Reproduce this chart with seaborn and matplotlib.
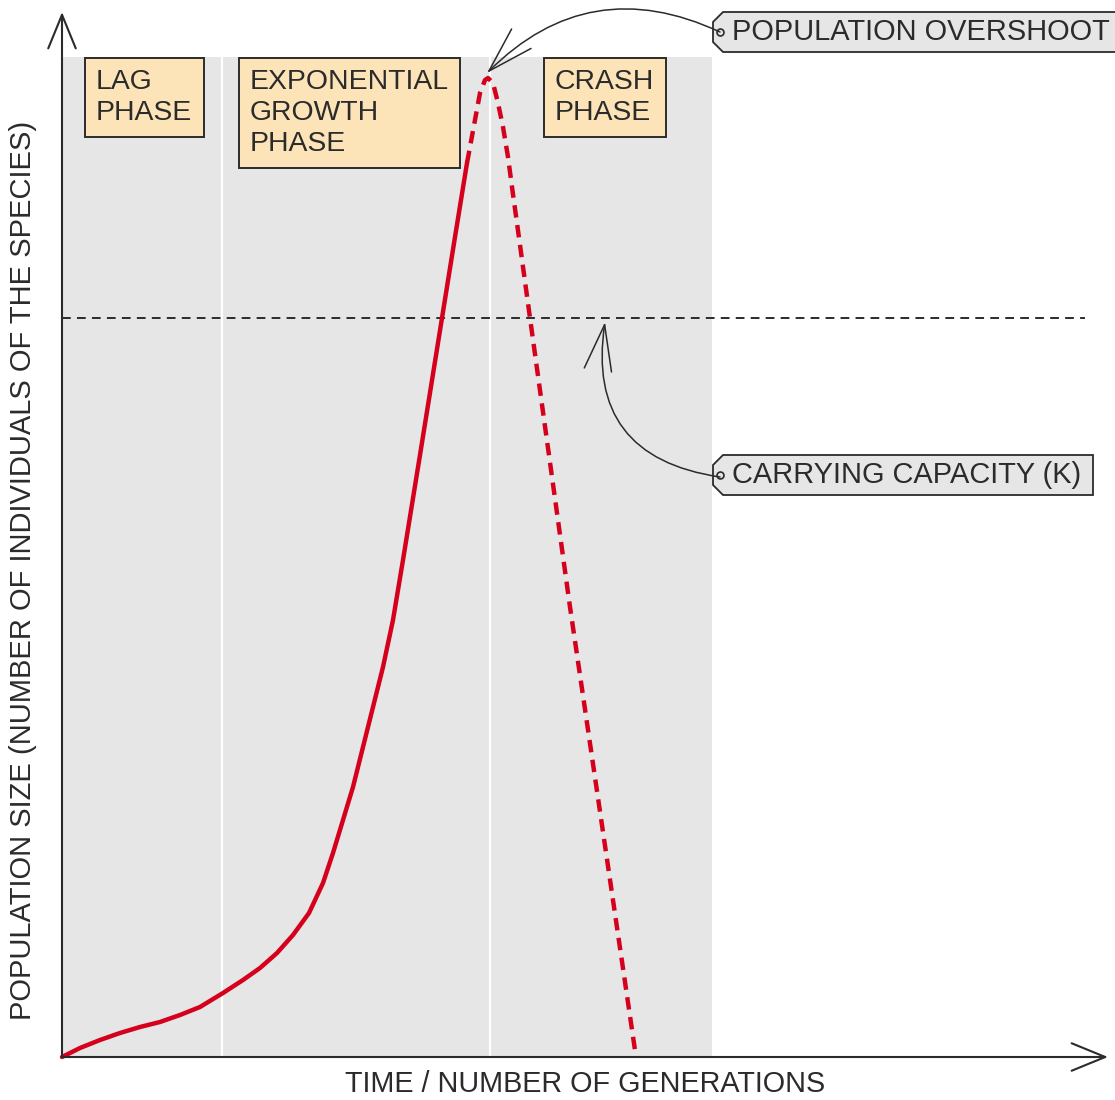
import numpy as np
import pandas as pd
import matplotlib
matplotlib.use("Agg")
import matplotlib.pyplot as plt
import seaborn as sns
from matplotlib.patches import Polygon, FancyArrowPatch

# population curve (time units, population units)
growth_time = [0, 1.8, 3.8, 5.8, 7.8, 9.8, 11.8, 13.8, 16.1, 18.1, 19.8, 21.5, 23.1,
               24.7, 26.1, 27.1, 28.1, 29.1, 30.1, 31.1, 32.1, 33.1, 34.1, 35.8,
               38.0, 39.3, 40.5]
growth_size = [0, 0.9, 1.7, 2.4, 3.0, 3.5, 4.2, 5.0, 6.4, 7.7, 8.9, 10.4, 12.2,
               14.4, 17.4, 20.4, 23.7, 27.0, 31.0, 35.0, 39.0, 43.7, 49.7, 60.2,
               73.9, 82.0, 89.4]
crash_time = [40.5, 40.8, 41.3, 41.8, 42.3, 42.6, 43.1, 43.6, 44.1, 44.6, 45.0,
              45.8, 46.8, 50.8, 57.4]
crash_size = [89.4, 91.0, 93.7, 96.4, 97.7, 97.9, 97.4, 95.4, 93.0, 90.0, 87.0,
              81.2, 73.9, 45.0, 0]

carrying_capacity = 73.9
phase_edges = [0, 16.0, 42.8, 65.0]
phase_labels = ["LAG\nPHASE", "EXPONENTIAL\nGROWTH\nPHASE", "CRASH\nPHASE"]

growth = pd.DataFrame({"time": growth_time, "size": growth_size})
crash = pd.DataFrame({"time": crash_time, "size": crash_size})

sns.set_theme(style="white")
plt.rcParams["font.family"] = ["Liberation Sans", "DejaVu Sans"]

RED = "#d5001c"
INK = "#2b2b2b"
GREY = "#e6e6e6"
PEACH = "#fde4b8"

fig = plt.figure(figsize=(11.15, 11.0), dpi=100)
ax = fig.add_axes([0, 0, 1, 1])
ax.set_xlim(-6.2, 105.3)
ax.set_ylim(-4.3, 105.7)
ax.axis("off")

# shaded phases
ax.axvspan(phase_edges[0], phase_edges[-1], ymin=(0 + 4.3) / 110, ymax=(100 + 4.3) / 110,
           color=GREY, lw=0, zorder=0)
for x in phase_edges[1:-1]:
    ax.plot([x, x], [0, 100], color="white", lw=1.6, zorder=1)

# carrying capacity
ax.plot([0, 102.3], [carrying_capacity] * 2, color=INK, lw=1.4,
        ls=(0, (4.5, 3.2)), zorder=2)

# curves
sns.lineplot(data=growth, x="time", y="size", ax=ax, color=RED, lw=3.2,
             estimator=None, sort=False, zorder=4)
sns.lineplot(data=crash, x="time", y="size", ax=ax, color=RED, lw=3.2,
             estimator=None, sort=False, ls=(0, (2.8, 1.7)), zorder=4)
ax.set_xlabel("")
ax.set_ylabel("")

# axes with open arrow heads
axis_arrow = dict(arrowstyle="->,head_length=1.1,head_width=0.45", color=INK, lw=1.5,
                  shrinkA=0, shrinkB=0, mutation_scale=22)
ax.annotate("", xy=(0, 104.5), xytext=(0, 0), arrowprops=axis_arrow, zorder=5)
ax.annotate("", xy=(104.6, 0), xytext=(0, 0), arrowprops=axis_arrow, zorder=5)

ax.text(-3.9, 48.7, "POPULATION SIZE (NUMBER OF INDIVIDUALS OF THE SPECIES)",
        rotation=90, ha="center", va="center", fontsize=21, color=INK)
ax.text(52.3, -2.7, "TIME / NUMBER OF GENERATIONS", ha="center", va="center",
        fontsize=20.7, color=INK)

# phase boxes
box = dict(boxstyle="square,pad=0.4", fc=PEACH, ec=INK, lw=1.4)
for x, lab in zip([3.4, 18.8, 49.3], phase_labels):
    ax.text(x, 98.8, lab, ha="left", va="top", fontsize=20.4, color=INK,
            linespacing=1.25, bbox=box, zorder=6)


def tag(x0, y0, width, height, text):
    c = 1.0
    pts = [(x0, y0 - height / 4), (x0 + c, y0 - height / 2), (x0 + width, y0 - height / 2),
           (x0 + width, y0 + height / 2), (x0 + c, y0 + height / 2), (x0, y0 + height / 4)]
    ax.add_patch(Polygon(pts, closed=True, fc=GREY, ec=INK, lw=1.3, zorder=6))
    ax.plot(x0 + 0.7, y0, "o", ms=5, mfc=GREY, mec=INK, mew=1.2, zorder=7)
    ax.text(x0 + 1.9, y0, text, ha="left", va="center", fontsize=20.9, color=INK, zorder=7)


tag(65.1, 102.5, 41.0, 4.0, "POPULATION OVERSHOOT")
tag(65.1, 58.2, 38.0, 4.0, "CARRYING CAPACITY (K)")

pointer = "->,head_length=1.5,head_width=0.45"
ax.add_patch(FancyArrowPatch((65.8, 102.5), (42.5, 98.4), connectionstyle="arc3,rad=0.35",
                             arrowstyle=pointer, mutation_scale=22, color=INK, lw=1.1,
                             shrinkA=0, shrinkB=0, zorder=7))
ax.add_patch(FancyArrowPatch((65.8, 58.0), (54.3, 73.5), connectionstyle="arc3,rad=-0.5",
                             arrowstyle=pointer, mutation_scale=22, color=INK, lw=1.1,
                             shrinkA=0, shrinkB=0, zorder=7))

fig.savefig("out.png", dpi=100, facecolor="white")
